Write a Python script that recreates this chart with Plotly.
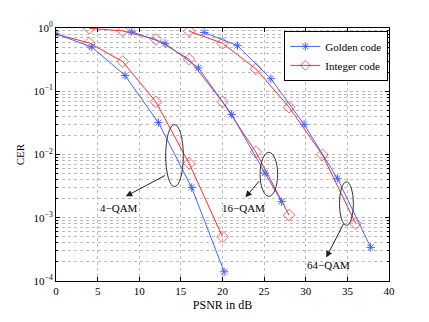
import plotly.graph_objects as go

# dados (PSNR em dB, CER)
psnr_golden_4 = [0, 4.3, 8.3, 12.3, 16.3, 20.2]
cer_golden_4 = [0.81, 0.50, 0.177, 0.032, 0.0030, 1.4e-4]
psnr_integer_4 = [0, 4.0, 8.0, 12.0, 16.0, 20.0]
cer_integer_4 = [0.80, 0.58, 0.295, 0.068, 0.0072, 5.0e-4]

psnr_golden_16 = [9.1, 13.1, 17.1, 21.1, 25.1, 27.1]
cer_golden_16 = [0.87, 0.57, 0.234, 0.043, 0.0051, 0.0018]
psnr_integer_16 = [4.0, 8.0, 12.0, 16.0, 20.0, 24.0, 28.0]
cer_integer_16 = [0.99, 0.90, 0.66, 0.32, 0.068, 0.011, 0.0011]

psnr_golden_64 = [17.8, 21.8, 25.8, 29.8, 33.8, 37.8]
cer_golden_64 = [0.85, 0.525, 0.158, 0.030, 0.0042, 3.4e-4]
psnr_integer_64 = [16.0, 20.0, 24.0, 28.0, 32.0, 36.0]
cer_integer_64 = [0.89, 0.575, 0.226, 0.056, 0.0099, 8.1e-4]

y_tickvals = [1e-4, 1e-3, 1e-2, 1e-1, 1]
y_ticktext = ["10<sup>−4</sup>", "10<sup>−3</sup>", "10<sup>−2</sup>",
              "10<sup>−1</sup>", "10<sup>0</sup>"]

AZUL = "#4664ff"
VERMELHO = "#ff2a2a"
FONTE = "Liberation Serif"

# área do gráfico no original, em pixels (para posicionar as anotações)
L, R, T, B = 55, 389, 24, 286
# a página tem margem de 8 px no body: compensa aqui
OFF = 8
W, H = 429 - OFF, 322 - OFF


def px(x):
    return (x - L) / (R - L)


def py(y):
    return (B - y) / (B - T)


fig = go.Figure()

series = [
    (psnr_golden_4, cer_golden_4, psnr_integer_4, cer_integer_4, True),
    (psnr_golden_16, cer_golden_16, psnr_integer_16, cer_integer_16, False),
    (psnr_golden_64, cer_golden_64, psnr_integer_64, cer_integer_64, False),
]
for xg, yg, xi, yi, legenda in series:
    tam_i = [9] * len(xi)
    if xi[0] == 0:
        tam_i[0] = 0  # o losango inicial não aparece no original
    fig.add_trace(go.Scatter(
        x=xi, y=yi, mode="lines+markers", name="Integer code",
        showlegend=legenda, legendgroup="int", legendrank=2,
        line=dict(color=VERMELHO, width=1),
        marker=dict(symbol="diamond-open", size=tam_i, color=VERMELHO,
                    line=dict(width=1, color=VERMELHO)),
    ))
    fig.add_trace(go.Scatter(
        x=xg, y=yg, mode="lines+markers", name="Golden code",
        showlegend=legenda, legendgroup="gold", legendrank=1,
        line=dict(color=AZUL, width=1),
        marker=dict(symbol="asterisk-open", size=7, color=AZUL,
                    line=dict(width=1, color=AZUL)),
    ))

# elipses e setas
elipses = [(165, 182.7, 124, 188.3), (259.7, 277.3, 152.7, 198.3),
           (339.3, 353.3, 183.3, 228.3)]
for x0, x1, y0, y1 in elipses:
    fig.add_shape(type="circle", xref="paper", yref="paper",
                  x0=px(x0), x1=px(x1), y0=py(y1), y1=py(y0),
                  line=dict(color="#333333", width=1))

setas = [((165.7, 176.7), (125, 198.3)), ((260, 181.7), (245, 199.3)),
         ((344, 226.7), (326, 261.7))]
for (tx, ty), (hx, hy) in setas:
    fig.add_annotation(xref="paper", yref="paper", x=px(hx), y=py(hy),
                       ax=tx - hx, ay=ty - hy, text="", showarrow=True,
                       arrowhead=2, arrowsize=1.3, arrowwidth=1,
                       arrowcolor="#222222")

rotulos = [("4−QAM", 118.3, 210.7), ("16−QAM", 243.3, 210),
           ("64−QAM", 328.3, 269.3)]
for txt, x, y in rotulos:
    fig.add_annotation(xref="paper", yref="paper", x=px(x), y=py(y),
                       xanchor="center", yanchor="middle",
                       text=txt, showarrow=False,
                       font=dict(family=FONTE, size=11, color="black"))

eixo = dict(
    showline=True, linecolor="black", linewidth=1, mirror="ticks",
    ticks="inside", ticklen=4, tickcolor="black",
    showgrid=True, gridcolor="#bcbcbc", griddash="dot", gridwidth=1,
    zeroline=False, tickfont=dict(family=FONTE, size=11, color="black"),
)

menores = [m * 10 ** e for e in range(-4, 0) for m in range(2, 10)]

fig.update_xaxes(
    **eixo, range=[0, 40], dtick=5,
    title=dict(text="PSNR in dB", font=dict(family=FONTE, size=12, color="black"),
               standoff=4),
)
fig.update_yaxes(
    **eixo, type="log", range=[-4, 0],
    tickvals=y_tickvals, ticktext=y_ticktext,
    minor=dict(tickmode="array", tickvals=menores, ticks="inside", ticklen=2,
               tickcolor="black", showgrid=True,
               gridcolor="#bcbcbc", griddash="dot", gridwidth=1),
    title=dict(text="CER", font=dict(family=FONTE, size=11, color="black"),
               standoff=6),
)

fig.update_layout(
    width=W, height=H,
    margin=dict(l=L - OFF, r=W - (R - OFF), t=T - OFF, b=H - (B - OFF)),
    paper_bgcolor="white", plot_bgcolor="white",
    font=dict(family=FONTE, color="black"),
    legend=dict(x=px(284), y=py(27), xanchor="left", yanchor="top",
                bgcolor="white", bordercolor="black", borderwidth=1,
                font=dict(family=FONTE, size=11, color="black"),
                tracegroupgap=0, itemwidth=30),
)

fig.write_html("out.html")
